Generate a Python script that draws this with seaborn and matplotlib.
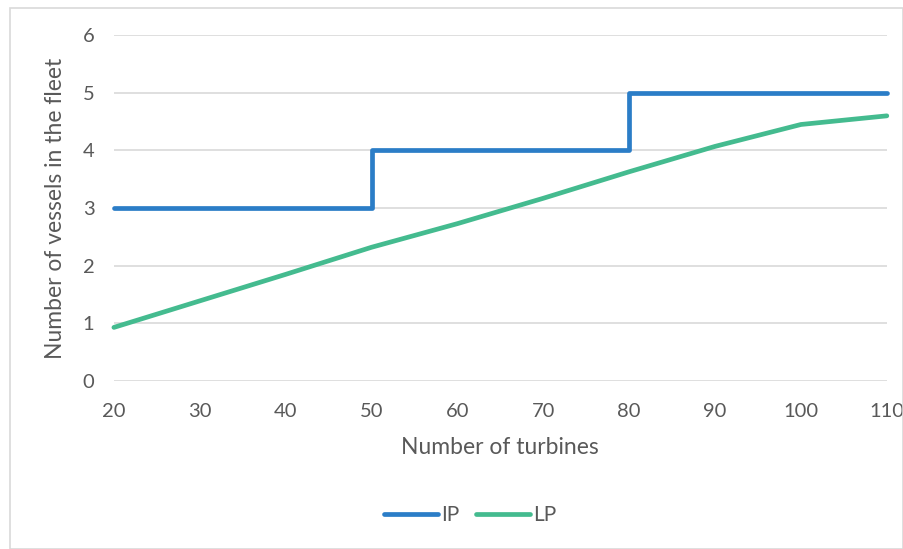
import matplotlib
matplotlib.use("Agg")
import matplotlib.pyplot as plt
import seaborn as sns
import pandas as pd
from matplotlib.patches import Rectangle

turbines = [20, 30, 40, 50, 60, 70, 80, 90, 100, 110]
ip_vessels = [3, 3, 3, 4, 4, 4, 5, 5, 5, 5]
lp_vessels = [0.93, 1.39, 1.85, 2.32, 2.73, 3.17, 3.63, 4.07, 4.45, 4.60]

sns.set_theme(style="white")
plt.rcParams['font.family'] = ['Lato', 'DejaVu Sans']

df = pd.DataFrame({"turbines": turbines, "IP": ip_vessels, "LP": lp_vessels})

fig = plt.figure(figsize=(9.04, 5.49), dpi=100)
ax = fig.add_axes([0.126, 0.306, 0.855, 0.630])

blue = "#2B7DC7"
green = "#44BB8F"
grid = "#D9D9D9"
txt = "#595959"

sns.lineplot(data=df, x="turbines", y="IP", ax=ax, color=blue, linewidth=3.4,
             drawstyle="steps-post", label="IP", solid_capstyle="round")
sns.lineplot(data=df, x="turbines", y="LP", ax=ax, color=green, linewidth=3.4,
             label="LP", solid_capstyle="round")

ax.set_xlim(20, 110)
ax.set_ylim(0, 6)
ax.set_xticks(turbines)
ax.set_yticks(range(0, 7))
ax.yaxis.grid(True, color=grid, linewidth=1.2)
ax.set_axisbelow(True)
for s in ax.spines.values():
    s.set_visible(False)
ax.tick_params(axis="both", length=0, labelsize=14.5, colors=txt)
ax.tick_params(axis="x", pad=16)
ax.tick_params(axis="y", pad=14)
ax.set_xlabel("Number of turbines", fontsize=16.5, color=txt, labelpad=12)
ax.set_ylabel("Number of vessels in the fleet", fontsize=16.5, color=txt, labelpad=12)
for ln in ax.lines:
    ln.set_clip_on(False)

handles, labels = ax.get_legend_handles_labels()
ax.get_legend().remove()
leg = fig.legend(handles, labels, loc="center", bbox_to_anchor=(0.52, 0.062),
                 ncol=2, frameon=False, fontsize=15, handlelength=2.6,
                 handletextpad=0.15, columnspacing=0.8)
for t in leg.get_texts():
    t.set_color(txt)

fig.patches.append(Rectangle((10 / 904, 0), 1 - 11 / 904, 1 - 8 / 549,
                             transform=fig.transFigure, fill=False,
                             edgecolor="#D9D9D9", linewidth=1.2))

fig.savefig("out.png", dpi=100)
